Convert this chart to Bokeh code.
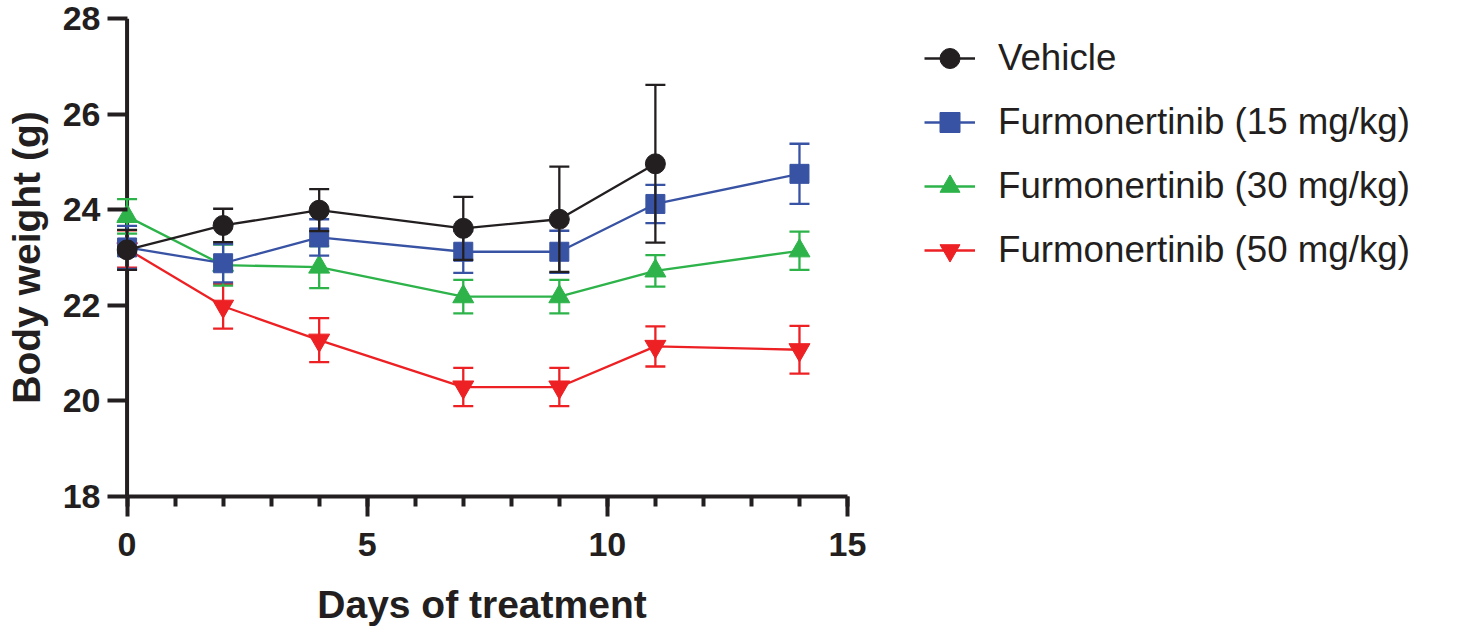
from bokeh.plotting import figure
from bokeh.layouts import row
from bokeh.models import Range1d, FixedTicker, ColumnDataSource, Legend, LegendItem, Span
from bokeh.embed import file_html
from bokeh.resources import INLINE

# ---- data ----
days_vehicle = [0, 2, 4, 7, 9, 11]
days_treated = [0, 2, 4, 7, 9, 11, 14]

vehicle_mean = [23.16, 23.67, 23.99, 23.61, 23.80, 24.96]
vehicle_err = [0.42, 0.35, 0.44, 0.66, 1.10, 1.65]

f15_mean = [23.21, 22.88, 23.42, 23.12, 23.12, 24.12, 24.75]
f15_err = [0.45, 0.40, 0.38, 0.44, 0.44, 0.40, 0.63]

f30_mean = [23.86, 22.84, 22.80, 22.18, 22.18, 22.72, 23.14]
f30_err = [0.36, 0.43, 0.44, 0.35, 0.35, 0.33, 0.40]

f50_mean = [23.18, 21.98, 21.27, 20.29, 20.29, 21.14, 21.07]
f50_err = [0.39, 0.47, 0.46, 0.40, 0.40, 0.42, 0.50]

labels = ["Vehicle", "Furmonertinib (15 mg/kg)", "Furmonertinib (30 mg/kg)", "Furmonertinib (50 mg/kg)"]
colors = ["#231f20", "#3953a4", "#2db34a", "#ed2024"]
markers = ["circle", "square", "triangle", "inverted_triangle"]
marker_sizes = [20, 19, 21, 21]

x_ticks = [0, 5, 10, 15]
x_minor_ticks = list(range(0, 16))
y_ticks = [18, 20, 22, 24, 26, 28]

x_title = "Days of treatment"
y_title = "Body weight (g)"

AXIS_COLOR = "#231f20"
FONT = "Liberation Sans"
LW = 2.3

p = figure(width=880, height=630, output_backend="svg", toolbar_location=None,
           x_range=Range1d(-0.22, 15), y_range=Range1d(18, 28),
           min_border_left=116, min_border_right=33, min_border_top=18, min_border_bottom=134)
p.grid.visible = False
p.outline_line_color = None
p.background_fill_color = None
p.border_fill_color = None

# x axis
xa = p.xaxis[0]
xa.bounds = (0, 15)
xa.ticker = FixedTicker(ticks=x_ticks, minor_ticks=x_minor_ticks)
xa.axis_line_width = 4
xa.axis_line_color = AXIS_COLOR
xa.major_tick_line_width = 4
xa.major_tick_line_color = AXIS_COLOR
xa.minor_tick_line_width = 4
xa.minor_tick_line_color = AXIS_COLOR
xa.major_tick_in = 0
xa.major_tick_out = 20
xa.minor_tick_in = 0
xa.minor_tick_out = 10
xa.major_label_text_font = FONT
xa.major_label_text_font_style = "bold"
xa.major_label_text_font_size = "34px"
xa.major_label_text_color = AXIS_COLOR
xa.major_label_standoff = 16
xa.axis_label = x_title
xa.axis_label_text_font = FONT
xa.axis_label_text_font_style = "bold"
xa.axis_label_text_font_size = "39px"
xa.axis_label_text_color = AXIS_COLOR
xa.axis_label_standoff = 24

# y axis: ticks reach in to x = 0, where the axis line is drawn
ya = p.yaxis[0]
ya.bounds = (18, 28)
ya.ticker = FixedTicker(ticks=y_ticks, minor_ticks=[])
ya.axis_line_color = None
ya.major_tick_line_width = 4
ya.major_tick_line_color = AXIS_COLOR
ya.minor_tick_line_color = None
ya.major_tick_in = 11
ya.major_tick_out = 9
ya.major_label_text_font = FONT
ya.major_label_text_font_style = "bold"
ya.major_label_text_font_size = "34px"
ya.major_label_text_color = AXIS_COLOR
ya.major_label_standoff = 7
ya.axis_label = y_title
ya.axis_label_text_font = FONT
ya.axis_label_text_font_style = "bold"
ya.axis_label_text_font_size = "39px"
ya.axis_label_text_color = AXIS_COLOR
ya.axis_label_standoff = 12

p.add_layout(Span(location=0, dimension="height", line_color=AXIS_COLOR, line_width=4, level="underlay"))

series = [
    (days_vehicle, vehicle_mean, vehicle_err),
    (days_treated, f15_mean, f15_err),
    (days_treated, f30_mean, f30_err),
    (days_treated, f50_mean, f50_err),
]

# legend lives in its own panel to the right of the chart
q = figure(width=570, height=630, output_backend="svg", toolbar_location=None,
           x_range=Range1d(100, 101), y_range=Range1d(100, 101),
           x_axis_type=None, y_axis_type=None, min_border=0)
q.grid.visible = False
q.outline_line_color = None
q.background_fill_color = None
q.border_fill_color = None

items = {}
# draw in reverse so Vehicle is on top
for i in reversed(range(4)):
    xs, m, e = series[i]
    src = ColumnDataSource(dict(x=xs, y=m,
                                lo=[a - b for a, b in zip(m, e)],
                                hi=[a + b for a, b in zip(m, e)]))
    col = colors[i]
    p.segment(x0="x", y0="lo", x1="x", y1="hi", source=src, line_color=col, line_width=LW)
    p.scatter(x="x", y="hi", source=src, marker="dash", size=20, line_color=col, line_width=LW)
    p.scatter(x="x", y="lo", source=src, marker="dash", size=20, line_color=col, line_width=LW)
    p.line(x="x", y="y", source=src, line_color=col, line_width=LW)
    p.scatter(x="x", y="y", source=src, marker=markers[i], size=marker_sizes[i],
              fill_color=col, line_color=col, line_width=1)
    # same series in the legend panel (outside its visible range), used as legend keys
    ln = q.line(x="x", y="y", source=src, line_color=col, line_width=LW)
    sc = q.scatter(x="x", y="y", source=src, marker=markers[i], size=marker_sizes[i],
                   fill_color=col, line_color=col, line_width=1)
    items[i] = LegendItem(label=labels[i], renderers=[ln, sc])

legend = Legend(items=[items[i] for i in range(4)], location=(44, 221),
                glyph_width=51, glyph_height=50, label_height=43, spacing=14,
                label_standoff=23, padding=0, margin=0,
                label_text_font=FONT, label_text_font_size="36.7px",
                label_text_color=AXIS_COLOR,
                border_line_color=None, background_fill_alpha=0)
q.add_layout(legend, "center")

layout = row(p, q)
open("out.html", "w").write(file_html(layout, INLINE))
